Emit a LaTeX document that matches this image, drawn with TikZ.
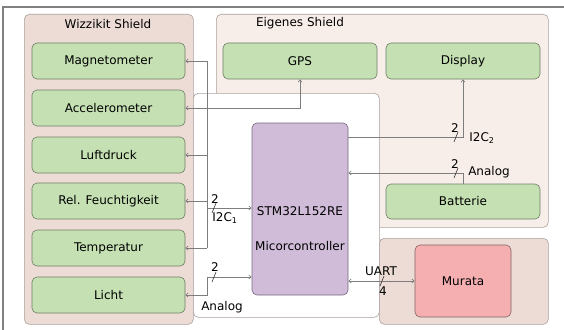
\documentclass[tikz,border=0pt]{standalone}
\usepackage{fontspec}
\setmainfont{DejaVu Sans}
\usetikzlibrary{arrows.meta}
\definecolor{wizbg}{RGB}{236,220,213}
\definecolor{eigbg}{RGB}{248,238,233}
\definecolor{shieldline}{RGB}{170,160,156}
\definecolor{greenbox}{RGB}{197,224,179}
\definecolor{greenline}{RGB}{110,125,100}
\definecolor{stmfill}{RGB}{208,188,216}
\definecolor{stmline}{RGB}{120,105,128}
\definecolor{murfill}{RGB}{245,175,177}
\definecolor{murline}{RGB}{130,100,100}
\definecolor{connc}{RGB}{125,125,125}
\begin{document}
\begin{tikzpicture}[x=1pt,y=-1pt,
  font=\fontsize{12}{14}\selectfont,
  region/.style={draw=shieldline, line width=0.6pt, rounded corners=5pt, anchor=north west, inner sep=0pt},
  sensor/.style={draw=greenline, fill=greenbox, line width=0.6pt, rounded corners=5pt, minimum width=153pt, minimum height=36pt, inner sep=0pt},
  conn/.style={draw=connc, line width=0.6pt},
  tip/.style={-{Straight Barb[length=2.5pt,width=4pt]}},
  tips/.style={{Straight Barb[length=2.5pt,width=4pt]}-{Straight Barb[length=2.5pt,width=4pt]}},
  slashmark/.style={draw=black!80, line width=0.6pt},
  lbl/.style={inner sep=0pt}]
\useasboundingbox (0,0) rectangle (564,329);
\draw[draw=gray, line width=1.5pt] (3,331) -- (3,7) -- (566,7);
% regions
\node[region, fill=wizbg, minimum width=169pt, minimum height=310pt] (wiz) at (24,14) {};
\node[region, fill=eigbg, minimum width=332pt, minimum height=213pt] (eig) at (216,14) {};
\node[region, fill=wizbg, minimum width=169pt, minimum height=86pt] (murreg) at (379,238) {};
\node[region, fill=white, minimum width=186pt, minimum height=224pt] (mcu) at (193,93) {};
\node[lbl] (wiztitle) at (108,24) {Wizzikit Shield};
\node[lbl] (eigtitle) at (300,23) {Eigenes Shield};
% sensors
\node[sensor] (mag) at (108.5,61) {Magnetometer};
\node[sensor] (acc) at (108.5,108) {Accelerometer};
\node[sensor] (luft) at (108.5,155) {Luftdruck};
\node[sensor] (feu) at (108.5,201) {Rel. Feuchtigkeit};
\node[sensor] (temp) at (108.5,248) {Temperatur};
\node[sensor] (licht) at (108.5,295) {Licht};
\node[sensor, minimum width=154pt] (gps) at (300,61) {GPS};
\node[sensor, minimum width=154pt] (disp) at (463,61) {Display};
\node[sensor, minimum width=154pt, minimum height=35pt] (bat) at (463,201.5) {Batterie};
\node[draw=stmline, fill=stmfill, line width=0.6pt, rounded corners=5pt, minimum width=96pt, minimum height=172pt, inner sep=0pt] (stm) at (300,209) {};
\node[lbl] (stmt1) at (300,211) {STM32L152RE};
\node[lbl] (stmt2) at (300,246) {Micorcontroller};
\node[draw=murline, fill=murfill, line width=0.6pt, rounded corners=5pt, minimum width=96pt, minimum height=72pt, inner sep=0pt] (mur) at (463,281) {Murata};
% I2C1 bus
\coordinate (busx) at (207,0);
\coordinate (i2ca) at (207,208);
\draw[conn] (mag.east -| busx) -- (temp.east -| busx);
\draw[conn,tip] (mag.east -| busx) -- (mag.east);
\draw[conn,tip] (luft.east -| busx) -- (luft.east);
\draw[conn,tip] (feu.east -| busx) -- (feu.east);
\draw[conn,tip] (temp.east -| busx) -- (temp.east);
\draw[conn,tip] (i2ca) -- (i2ca -| stm.west);
\draw[slashmark] (212,213) -- (216,203);
\node[lbl] (n2a) at (215,199) {2};
\node[lbl] (i2c1) at (225,218) {I2C\textsubscript{1}};
% GPS - Accelerometer
\draw[conn,tips] (acc.east) -| (gps.south);
% Licht analog
\coordinate (lichtc) at (207,277);
\draw[conn,tips] (licht.east) -| (lichtc) -- (lichtc -| stm.west);
\draw[slashmark] (212,282) -- (216,272);
\node[lbl] (n2b) at (215,267) {2};
\node[lbl] (an1) at (222,307) {Analog};
% I2C2 display
\coordinate (i2cb) at (348,137);
\draw[conn,tip] (i2cb -| stm.east) -| (disp.south);
\draw[slashmark] (454,142) -- (458,132);
\node[lbl] (n2c) at (455,128) {2};
\node[lbl] (i2c2) at (482,138) {I2C\textsubscript{2}};
% battery analog
\coordinate (batc) at (348,173);
\draw[conn,tip] (bat.north) |- (batc -| stm.east);
\draw[slashmark] (454,178) -- (458,168);
\node[lbl] (n2d) at (455,164) {2};
\node[lbl] (an2) at (489,172) {Analog};
% UART
\coordinate (uartc) at (348,281);
\draw[conn,tips] (uartc -| stm.east) -- (uartc -| mur.west);
\draw[slashmark] (380,286) -- (384,276);
\node[lbl] (uart) at (381,271) {UART};
\node[lbl] (n4) at (383,291) {4};
\end{tikzpicture}
\end{document}
